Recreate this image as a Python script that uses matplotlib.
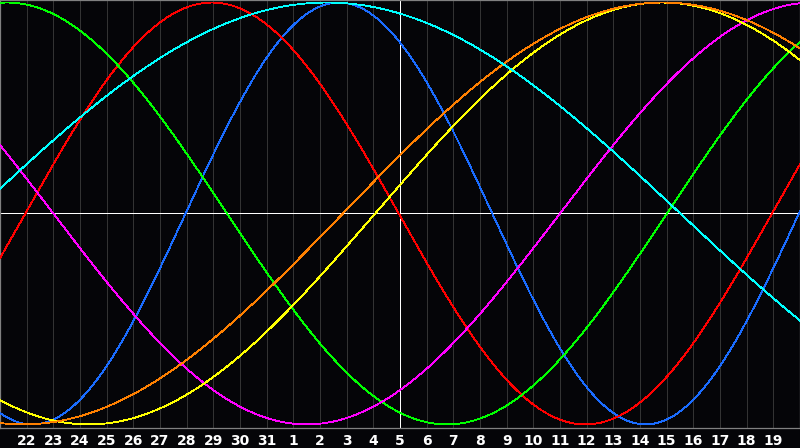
import numpy as np
import matplotlib.pyplot as plt

# day labels along the bottom (one per grid line)
DAY_LABELS = [22, 23, 24, 25, 26, 27, 28, 29, 30, 31,
              1, 2, 3, 4, 5, 6, 7, 8, 9, 10,
              11, 12, 13, 14, 15, 16, 17, 18, 19]
TODAY = 5

# cycles: period (days) and where the peak sits (days from left edge)
CYCLES = ["physical", "emotional", "intellectual", "intuitive",
          "aesthetic", "awareness", "spiritual"]
PERIODS = [23, 28, 33, 38, 43, 48, 53]
PEAK_AT = [12.71, 7.95, 0.26, 30.5, 24.82, 24.86, 12.26]
COLORS = ["#1a6cff", "#ff0000", "#00ff00", "#ff00ff",
          "#ffff00", "#ff8000", "#00ffff"]

BG = "#050508"
GRID = "#333333"
BORDER = "#808080"

fig = plt.figure(figsize=(8, 4.48), dpi=100)
fig.patch.set_facecolor(BG)
ax = fig.add_axes([0, 20 / 448, 1, 428 / 448])
ax.set_facecolor(BG)

n_days = len(DAY_LABELS) + 1
ax.set_xlim(0, n_days)
ax.set_ylim(-1.017, 1.012)

ticks = np.arange(1, n_days)
for x in ticks:
    ax.axvline(x, color=GRID, lw=0.72, zorder=1, antialiased=False)

today_x = ticks[DAY_LABELS.index(TODAY)]
ax.axvline(today_x, color="white", lw=0.72, zorder=2, antialiased=False)
ax.axhline(0, color="white", lw=0.72, zorder=2, antialiased=False)

t = np.linspace(0, n_days, 1601)
for period, peak, color in zip(PERIODS, PEAK_AT, COLORS):
    y = np.cos(2 * np.pi * (t - peak) / period)
    ax.plot(t, y, color=color, lw=0.6, zorder=3, antialiased=False)

ax.set_xticks(ticks)
ax.set_xticklabels([str(d) for d in DAY_LABELS])
ax.tick_params(axis="x", length=0, pad=4, colors="white", labelsize=10)
for lab in ax.get_xticklabels():
    lab.set_fontweight("bold")
ax.set_yticks([])

for side in ["left", "top", "right", "bottom"]:
    ax.spines[side].set_color(BORDER)
    ax.spines[side].set_linewidth(0.9)

fig.savefig("out.png", dpi=100, facecolor=BG)
